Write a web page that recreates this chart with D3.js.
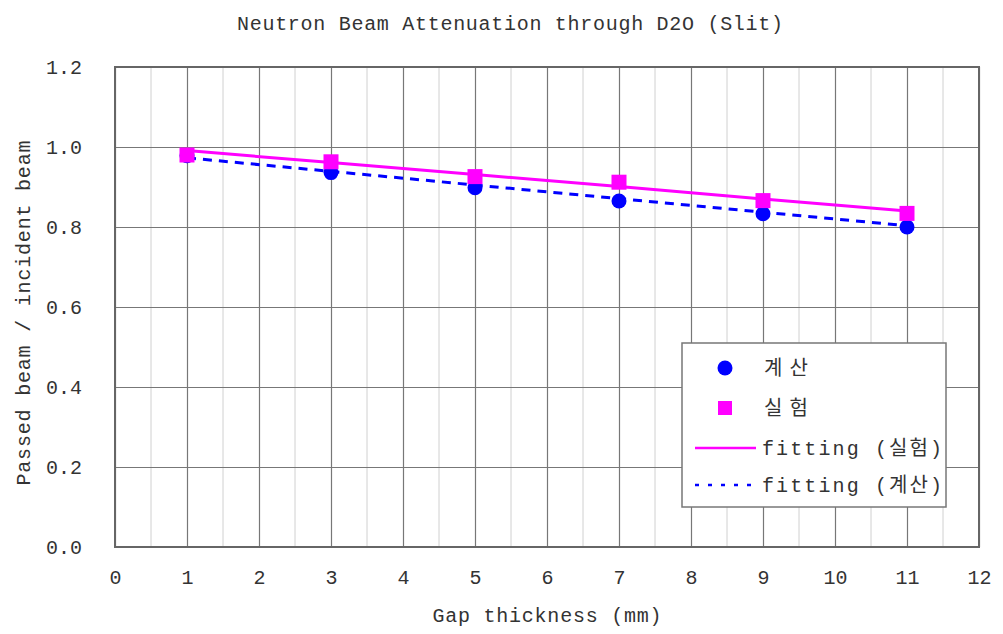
<!DOCTYPE html>
<html><head><meta charset="utf-8">
<script src="https://cdn.jsdelivr.net/npm/d3@7"></script>
<style>
html,body{margin:0;padding:0;background:#fff;}
svg{display:block;}
text{fill:#333;}
</style></head>
<body>
<script>
// ---- data ----
const gapX = [1, 3, 5, 7, 9, 11];
const calcValues = [0.978, 0.936, 0.898, 0.865, 0.833, 0.800];   // 계산
const expValues  = [0.980, 0.963, 0.926, 0.912, 0.866, 0.834];   // 실험
const fitExpValues  = [0.991, 0.961, 0.931, 0.901, 0.870, 0.840]; // fitting (실험)
const fitCalcValues = [0.973, 0.939, 0.905, 0.871, 0.837, 0.803]; // fitting (계산)
const xTicks = [0,1,2,3,4,5,6,7,8,9,10,11,12];
const yTicks = [0,0.2,0.4,0.6,0.8,1.0,1.2];
const legendLabels = ["계산", "실험", "fitting (실험)", "fitting (계산)"];
const titleText = "Neutron Beam Attenuation through D2O (Slit)";
const xTitle = "Gap thickness (mm)";
const yTitle = "Passed beam / incident beam";

const W = 1003, H = 634;
const m = {left:115, top:67, right:24, bottom:87};
const pw = W - m.left - m.right, ph = H - m.top - m.bottom;

const svg = d3.select("body").append("svg").attr("width", W).attr("height", H);
const x = d3.scaleLinear().domain([0,12]).range([m.left, m.left+pw]);
const y = d3.scaleLinear().domain([0,1.2]).range([m.top+ph, m.top]);

const mono = "'Liberation Mono','DejaVu Sans Mono','Noto Sans CJK KR',monospace";
const kr = "'Noto Sans CJK KR',sans-serif";

// title
svg.append("text").attr("x", 510).attr("y", 30).attr("text-anchor","middle")
  .attr("font-family", mono).attr("font-size", 20)
  .attr("textLength", 546).attr("lengthAdjust","spacing").text(titleText);

// minor vertical grid
const minor = d3.range(0.5, 12, 1);
svg.append("g").selectAll("line").data(minor).join("line")
  .attr("x1", d=>x(d)).attr("x2", d=>x(d)).attr("y1", y(0)).attr("y2", y(1.2))
  .attr("stroke", "#d0d0d0").attr("stroke-width", 1);

// major grids via axes
const gx = svg.append("g").attr("transform", `translate(0,${y(0)})`)
  .call(d3.axisBottom(x).tickValues(xTicks).tickSize(-ph).tickPadding(23).tickFormat(d3.format("d")));
const gy = svg.append("g").attr("transform", `translate(${x(0)},0)`)
  .call(d3.axisLeft(y).tickValues(yTicks).tickSize(-pw).tickPadding(33).tickFormat(d3.format(".1f")));
[gx, gy].forEach(g=>{
  g.select(".domain").remove();
  g.selectAll(".tick line").attr("stroke", "#777").attr("stroke-width", 1.2);
  g.selectAll(".tick text").attr("font-family", mono).attr("font-size", 20).attr("fill", "#333");
});
gy.selectAll(".tick text").attr("text-anchor","end").attr("dx", 0);

// plot border
svg.append("rect").attr("x", x(0)).attr("y", y(1.2)).attr("width", pw).attr("height", ph)
  .attr("fill","none").attr("stroke","#666").attr("stroke-width", 2);

// axis titles
svg.append("text").attr("x", 547).attr("y", 622).attr("text-anchor","middle")
  .attr("font-family", mono).attr("font-size", 20)
  .attr("textLength", 229).attr("lengthAdjust","spacing").text(xTitle);
svg.append("text").attr("transform", "translate(30,313) rotate(-90)").attr("text-anchor","middle")
  .attr("font-family", mono).attr("font-size", 20)
  .attr("textLength", 345).attr("lengthAdjust","spacing").text(yTitle);

// lines
const line = d3.line().x((d,i)=>x(gapX[i])).y(d=>y(d));
svg.append("path").datum(fitExpValues).attr("d", line).attr("fill","none")
  .attr("stroke","#ff00ff").attr("stroke-width", 3);
svg.append("path").datum(fitCalcValues).attr("d", line).attr("fill","none")
  .attr("stroke","#0000ff").attr("stroke-width", 3).attr("stroke-dasharray","9,7");

// markers
svg.append("g").selectAll("circle").data(calcValues).join("circle")
  .attr("cx", (d,i)=>x(gapX[i])).attr("cy", d=>y(d)).attr("r", 7.5).attr("fill","#0000ff");
svg.append("g").selectAll("rect").data(expValues).join("rect")
  .attr("x", (d,i)=>x(gapX[i])-7.5).attr("y", d=>y(d)-7.5).attr("width",15).attr("height",15).attr("fill","#ff00ff");

// legend
const lg = svg.append("g");
lg.append("rect").attr("x", 682).attr("y", 343).attr("width", 264).attr("height", 164)
  .attr("fill","#fff").attr("stroke","#777").attr("stroke-width",1.5);
const ly = [368, 408, 448, 485];
lg.append("circle").attr("cx", 725).attr("cy", ly[0]).attr("r", 7.5).attr("fill","#0000ff");
lg.append("rect").attr("x", 718).attr("y", ly[1]-7).attr("width",14).attr("height",14).attr("fill","#ff00ff");
lg.append("line").attr("x1",695).attr("x2",756).attr("y1",ly[2]).attr("y2",ly[2]).attr("stroke","#ff00ff").attr("stroke-width",2.5);
lg.append("line").attr("x1",695).attr("x2",756).attr("y1",ly[3]).attr("y2",ly[3]).attr("stroke","#0000ff").attr("stroke-width",2.5).attr("stroke-dasharray","4,9");
legendLabels.forEach((t,i)=>{
  lg.append("text").attr("x", i<2 ? 764 : 762).attr("y", ly[i]+7)
    .attr("font-family", mono).attr("font-size", 20).attr("fill","#333")
    .attr("textLength", i<2 ? 44 : 180).attr("lengthAdjust","spacing").text(t);
});
</script>
</body></html>
